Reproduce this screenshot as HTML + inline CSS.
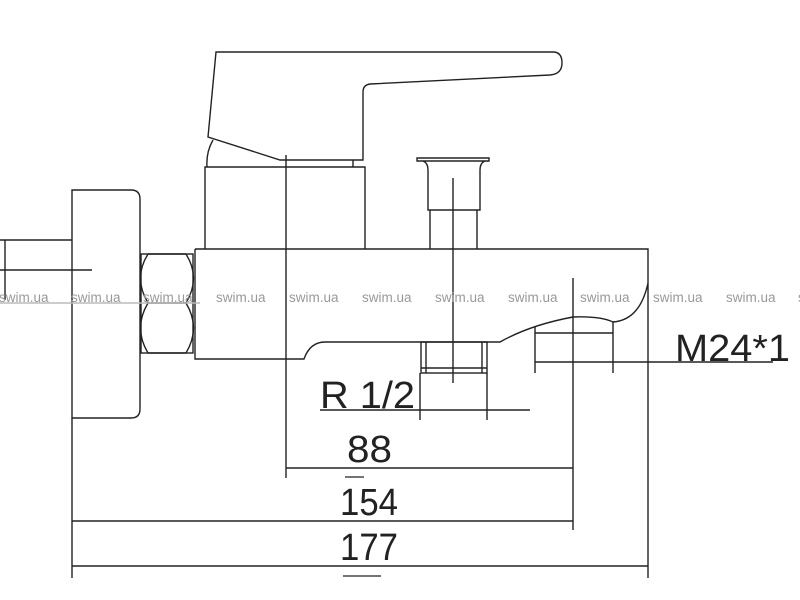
<!DOCTYPE html>
<html><head><meta charset="utf-8"><style>
html,body{margin:0;padding:0;background:#fff;width:800px;height:600px;overflow:hidden}
svg{display:block}
</style></head><body>
<svg width="800" height="600" viewBox="0 0 800 600" xmlns="http://www.w3.org/2000/svg">
<g fill="none" stroke="#222" stroke-width="1.4">
<path d="M0 240 H72 M5 240 V300 M0 270 H92"/>
<path d="M72 190 H131 Q140 190 140 199 V409 Q140 418 131 418 H72 Z"/>
<rect x="141" y="254" width="52" height="99"/>
<path d="M148 254 Q133 278 148 303 Q133 328 148 353 M186 254 Q201 278 186 303 Q201 328 186 353 M148 254 H186 M148 303 H186 M148 353 H186"/>
<path d="M195 249 H648 V578 M195 249 V359 H304 Q310 342 325 342 H500 Q530 325 573 317 Q600 316 613 322 Q640 320 648 283"/>
<path d="M205 249 V167 H365 V249"/>
<path d="M216 52 H553 Q562 52 562 63 Q562 74 550 75 L370 84 Q363 85 363 92 V160 H280 L208 137 Z"/>
<path d="M213 140 Q206 152 207 167 M353 160 V167"/>
<path d="M417 158 H489 V161 H417 Z M423 161 Q428 163 428 170 V210 H480 V170 Q480 163 485 161 M430 210 V249 M477 210 V249"/>
<rect x="421" y="342" width="66" height="31"/>
<path d="M426 342 V373 M482 342 V373 M421 368 H487"/>
<path d="M453 178 V383 M286 155 V478 M573 278 V530"/>
<path d="M535 327 V373 M613 322 V373 M535 333 H613 M535 362 H773"/>
<path d="M320 410 H530 M420 373 V420 M487 373 V420"/>
<path d="M286 468 H573 M72 521 H573 M72 566 H648 M72 418 V578"/>
<path d="M345 477 H364 M343 576 H381" stroke-width="1.2"/>
</g>
<line x1="0" y1="303" x2="200" y2="303" stroke="#bbb" stroke-width="1.5"/>
<g font-family="Liberation Sans, sans-serif" fill="#222" font-size="38">
<text x="320" y="408" textLength="95" lengthAdjust="spacingAndGlyphs">R 1/2</text>
<text x="347" y="462" textLength="45" lengthAdjust="spacingAndGlyphs">88</text>
<text x="340" y="515" textLength="58" lengthAdjust="spacingAndGlyphs">154</text>
<text x="340" y="560" textLength="58" lengthAdjust="spacingAndGlyphs">177</text>
<text x="675" y="361" textLength="115" lengthAdjust="spacingAndGlyphs">M24*1</text>
</g>
<g font-family="Liberation Sans, sans-serif" fill="#999" font-size="13.5">
<text x="-1" y="302">swim.ua</text><text x="71" y="302">swim.ua</text><text x="143" y="302">swim.ua</text>
<text x="216" y="302">swim.ua</text><text x="289" y="302">swim.ua</text><text x="362" y="302">swim.ua</text>
<text x="435" y="302">swim.ua</text><text x="508" y="302">swim.ua</text><text x="580" y="302">swim.ua</text>
<text x="653" y="302">swim.ua</text><text x="726" y="302">swim.ua</text><text x="798" y="302">swim.ua</text>
</g>
</svg>
</body></html>
